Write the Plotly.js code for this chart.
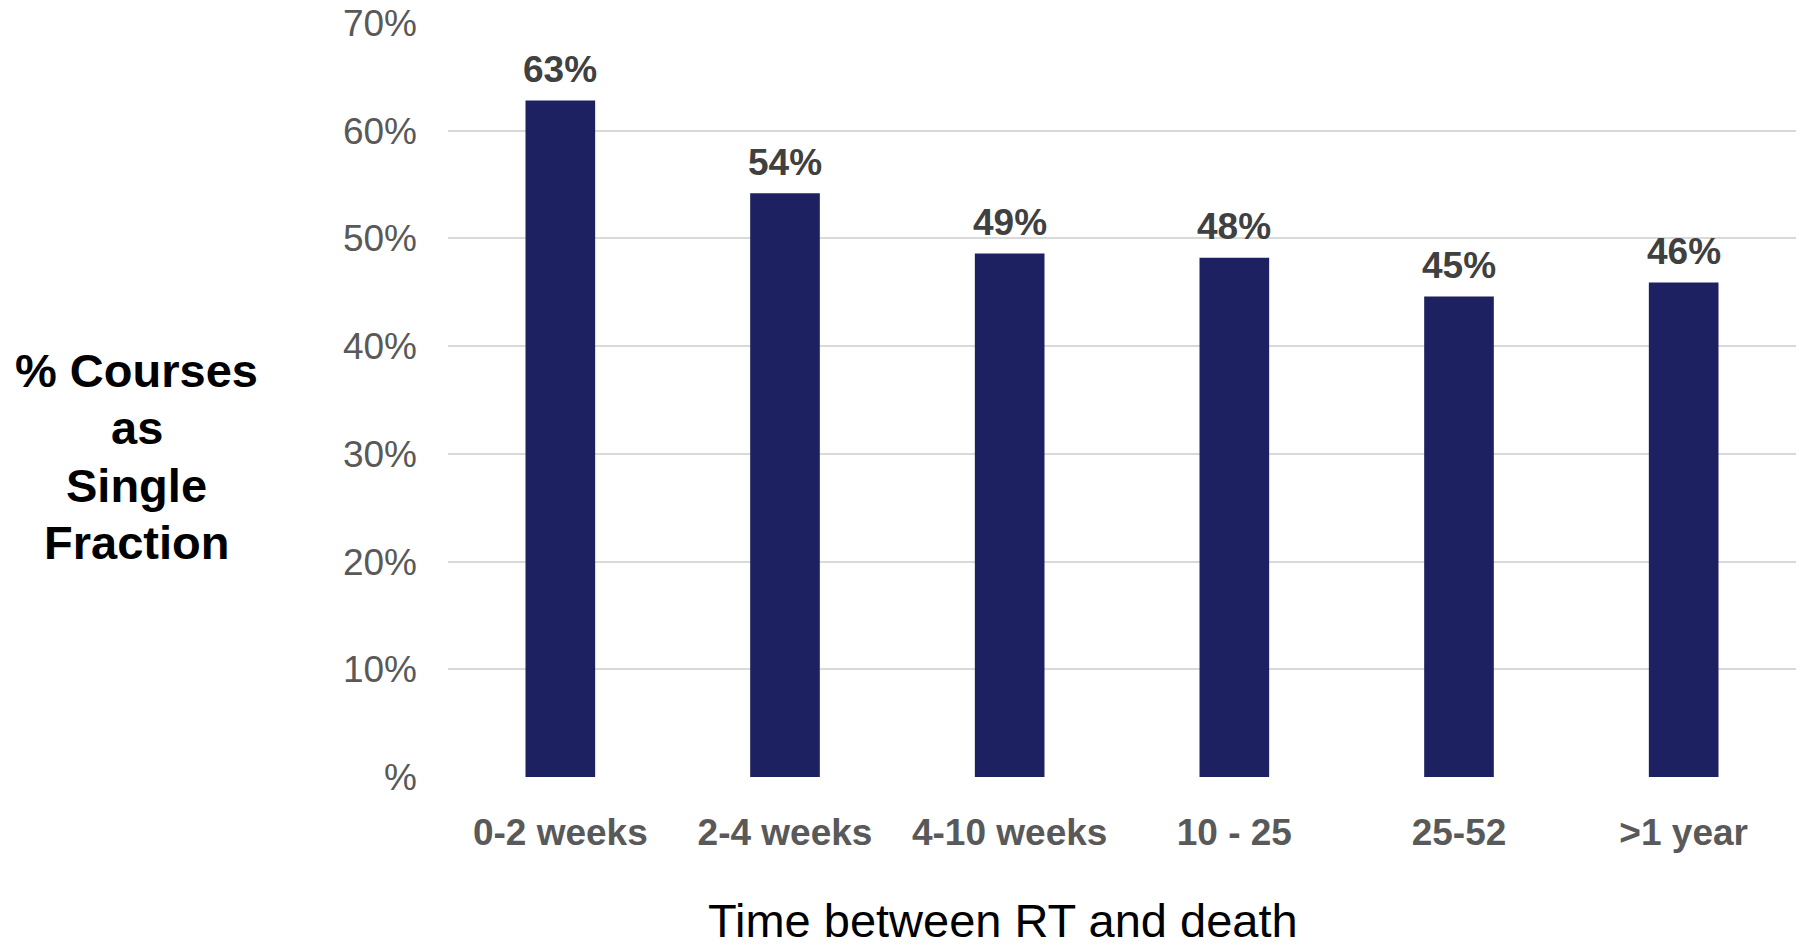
<!DOCTYPE html>
<html>
<head>
<meta charset="utf-8">
<script src="https://cdn.plot.ly/plotly-3.0.1.min.js"></script>
<style>
  html, body { margin: 0; padding: 0; background: #ffffff; }
  #chart { width: 1802px; height: 947px; }
</style>
</head>
<body>
<div id="chart"></div>
<script>
// Time between radiotherapy and death, and share of courses given as a single fraction
const categories = ['0-2 weeks', '2-4 weeks', '4-10 weeks', '10 - 25', '25-52', '>1 year'];
const singleFractionShare = [0.628, 0.542, 0.486, 0.482, 0.446, 0.459];

const yTickVals = [0, 0.1, 0.2, 0.3, 0.4, 0.5, 0.6, 0.7];
const yTickText = ['%', '10%', '20%', '30%', '40%', '50%', '60%', '70%'];

const yTitleLines = ['% Courses', 'as', 'Single', 'Fraction'];
const xTitleText = 'Time between RT and death';

const FONT = '"Liberation Sans", Arial, sans-serif';

const barTrace = {
  type: 'bar',
  x: categories,
  y: singleFractionShare,
  marker: { color: '#1d2061', line: { width: 0 } },
  hoverinfo: 'x+y',
  showlegend: false
};

// value labels above each bar
const valueLabels = categories.map((c, i) => ({
  xref: 'x', yref: 'y',
  x: c, y: singleFractionShare[i],
  text: Math.round(singleFractionShare[i] * 100) + '%',
  showarrow: false,
  yanchor: 'middle',
  yshift: 31,
  font: { family: FONT, size: 37, color: '#404040', weight: 'bold' }
}));

// horizontal, stacked y-axis title on the left
const yTitle = yTitleLines.map((line, i) => ({
  xref: 'paper', yref: 'paper',
  x: -0.2308, y: 1 - (370 - 23 + i * 57.5) / 754,
  xanchor: 'center', yanchor: 'middle',
  text: line,
  showarrow: false,
  font: { family: FONT, size: 47, color: '#000000', weight: 'bold' }
}));

const xTitle = {
  xref: 'paper', yref: 'paper',
  x: 0.4117, y: -(920 - 777) / 754,
  xanchor: 'center', yanchor: 'middle',
  text: xTitleText,
  showarrow: false,
  font: { family: FONT, size: 47, color: '#000000' }
};

const layout = {
  width: 1802,
  height: 947,
  margin: { l: 448, r: 6, t: 23, b: 170, pad: 0 },
  paper_bgcolor: '#ffffff',
  plot_bgcolor: '#ffffff',
  bargap: 0.69,
  font: { family: FONT },
  xaxis: {
    type: 'category',
    showgrid: false,
    showline: false,
    zeroline: false,
    ticks: '',
    ticklabelstandoff: 30,
    tickfont: { family: FONT, size: 37, color: '#595959', weight: 'bold' }
  },
  yaxis: {
    range: [0, 0.7],
    tickvals: yTickVals,
    ticktext: yTickText,
    showgrid: true,
    gridcolor: '#d9d9d9',
    gridwidth: 2,
    zeroline: false,
    showline: false,
    ticks: '',
    ticklabelstandoff: 30,
    tickfont: { family: FONT, size: 37, color: '#595959' }
  },
  annotations: valueLabels.concat(yTitle, [xTitle])
};

Plotly.newPlot('chart', [barTrace], layout, { displayModeBar: false, staticPlot: true });
</script>
</body>
</html>
